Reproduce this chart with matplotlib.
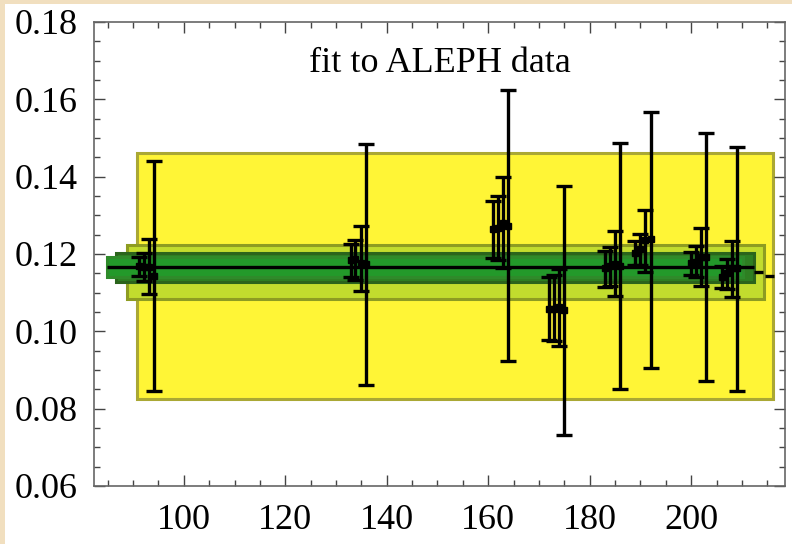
import matplotlib
matplotlib.use("Agg")
from matplotlib import pyplot as plt
from matplotlib.patches import Rectangle

# energies (GeV) of the error bars, four per LEP point
energies = [91.2, 92.2, 93.2, 94.1,
            133.0, 133.8, 134.9, 135.9,
            161.0, 162.0, 163.0, 164.0,
            172.0, 173.0, 174.0, 175.0,
            183.0, 184.0, 185.0, 186.0,
            189.0, 190.0, 191.0, 192.0,
            200.0, 201.0, 202.0, 203.0,
            206.0, 207.0, 208.0, 209.0]
centers = [0.1168, 0.1166, 0.1166, 0.1143,
           0.1184, 0.1188, 0.1177, 0.1174,
           0.1264, 0.1268, 0.1281, 0.1273,
           0.1059, 0.1059, 0.1064, 0.1055,
           0.1163, 0.1170, 0.1175, 0.1168,
           0.1202, 0.1213, 0.1236, 0.1238,
           0.1176, 0.1180, 0.1193, 0.1193,
           0.1141, 0.1150, 0.1163, 0.1163]
lows = [0.1143, 0.1130, 0.1096, 0.0846,
        0.1140, 0.1133, 0.1105, 0.0862,
        0.1190, 0.1184, 0.1165, 0.0924,
        0.0978, 0.0975, 0.0962, 0.0732,
        0.1114, 0.1116, 0.1091, 0.0850,
        0.1172, 0.1172, 0.1153, 0.0906,
        0.1146, 0.1141, 0.1118, 0.0872,
        0.1111, 0.1109, 0.1090, 0.0846]
highs = [0.1193, 0.1203, 0.1238, 0.1440,
         0.1226, 0.1236, 0.1272, 0.1484,
         0.1337, 0.1351, 0.1399, 0.1624,
         0.1141, 0.1146, 0.1162, 0.1376,
         0.1208, 0.1219, 0.1259, 0.1486,
         0.1233, 0.1253, 0.1314, 0.1568,
         0.1204, 0.1221, 0.1268, 0.1512,
         0.1170, 0.1186, 0.1233, 0.1477]

# fit bands: (x from, x to, y low, y high)
band_x0 = [90.8, 88.9, 86.7, 84.8]
band_x1 = [216.1, 214.3, 212.3, 210.3]
band_lo = [0.0824, 0.1083, 0.1128, 0.1141]
band_hi = [0.1462, 0.1223, 0.1203, 0.1193]
band_fill = ['#fff536', '#c2dc2e', '#2e7f22', '#23992a']
band_edge = ['#aaa834', '#8e9c22', '#2b641c', '#2f8a2a']

# fitted value line pieces
fit_x0 = [84.8, 212.4, 214.5]
fit_x1 = [212.3, 214.2, 216.4]
fit_y = [0.1167, 0.1153, 0.1144]

plt.rcParams['font.family'] = ['Liberation Serif', 'DejaVu Serif']

fig = plt.figure(figsize=(7.92, 5.44), dpi=100)
fig.patch.set_facecolor('#f1dfbf')
# white card behind the plot, beige edge left and top
fig.add_artist(Rectangle((5 / 792, 0), 1, 1 - 4 / 544, transform=fig.transFigure,
                         facecolor='white', edgecolor='none', zorder=-5))
ax = fig.add_axes([94 / 792, 58 / 544, 691 / 792, 464 / 544])

for x0, x1, lo, hi, fc, ec in zip(band_x0, band_x1, band_lo, band_hi, band_fill, band_edge):
    ax.add_patch(Rectangle((x0, lo), x1 - x0, hi - lo, facecolor=fc, edgecolor=ec,
                           linewidth=2.2, zorder=1))

for x0, x1, y in zip(fit_x0, fit_x1, fit_y):
    ax.plot([x0, x1], [y, y], color='black', linewidth=2.4, zorder=2, solid_capstyle='butt')

yerr = [[c - l for c, l in zip(centers, lows)], [h - c for c, h in zip(centers, highs)]]
ax.errorbar(energies, centers, yerr=yerr, fmt='s', ms=4.2, color='black', ecolor='black',
            elinewidth=2.4, capsize=5.5, capthick=2.4, zorder=3)

ax.set_xlim(82.3, 218.5)
ax.set_ylim(0.06, 0.18)
ax.set_xticks([100, 120, 140, 160, 180, 200])
ax.set_xticks(range(85, 219, 5), minor=True)
ax.set_yticks([0.06, 0.08, 0.10, 0.12, 0.14, 0.16, 0.18])
ax.set_yticklabels(['0.06', '0.08', '0.10', '0.12', '0.14', '0.16', '0.18'])
ax.set_yticks([i * 0.005 for i in range(12, 37)], minor=True)
ax.tick_params(which='both', direction='in', top=True, right=True, color='#444444', labelsize=26)
ax.tick_params(which='major', length=8, width=1)
ax.tick_params(which='minor', length=4.5, width=1)
ax.tick_params(axis='x', pad=13)
ax.tick_params(axis='y', pad=12)
for s in ax.spines.values():
    s.set_color('#666666')
    s.set_linewidth(1.2)

ax.text(0.5, 0.91, 'fit to ALEPH data', transform=ax.transAxes, ha='center', va='center',
        fontsize=26)

fig.savefig('out.png', dpi=100)
